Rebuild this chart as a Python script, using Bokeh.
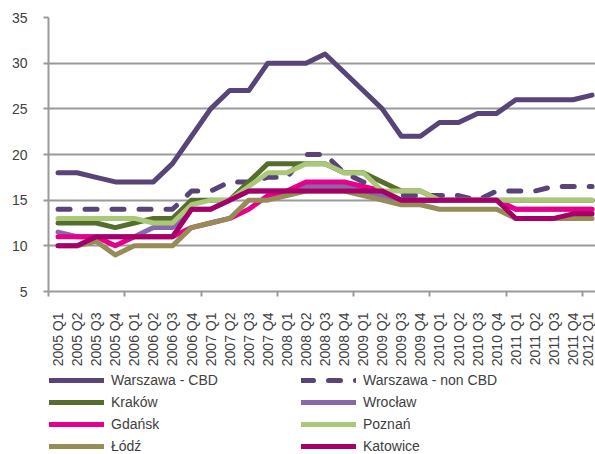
import math
from bokeh.plotting import figure
from bokeh.layouts import column
from bokeh.models import Range1d, FixedTicker, Legend, LegendItem
from bokeh.embed import file_html
from bokeh.resources import INLINE

quarters = ["2005 Q1", "2005 Q2", "2005 Q3", "2005 Q4",
            "2006 Q1", "2006 Q2", "2006 Q3", "2006 Q4",
            "2007 Q1", "2007 Q2", "2007 Q3", "2007 Q4",
            "2008 Q1", "2008 Q2", "2008 Q3", "2008 Q4",
            "2009 Q1", "2009 Q2", "2009 Q3", "2009 Q4",
            "2010 Q1", "2010 Q2", "2010 Q3", "2010 Q4",
            "2011 Q1", "2011 Q2", "2011 Q3", "2011 Q4",
            "2012 Q1"]

warszawa_cbd = [18, 18, 17.5, 17, 17, 17, 19, 22, 25, 27, 27, 30, 30, 30, 31, 29,
                27, 25, 22, 22, 23.5, 23.5, 24.5, 24.5, 26, 26, 26, 26, 26.5]
warszawa_non_cbd = [14, 14, 14, 14, 14, 14, 14, 16, 16, 17, 17, 17.5, 17.5, 20, 20, 18,
                    17, 16, 15.5, 15.5, 15.5, 15.5, 15, 16, 16, 16, 16.5, 16.5, 16.5]
krakow = [12.5, 12.5, 12.5, 12, 12.5, 13, 13, 15, 15, 15, 17, 19, 19, 19, 19, 18,
          18, 17, 16, 16, 15, 15, 15, 15, 15, 15, 15, 15, 15]
wroclaw = [11.5, 11, 11, 11, 11, 12, 12, 14, 14, 15, 16, 16, 16, 16.5, 16.5, 16.5,
           16, 15.5, 15, 15, 15, 15, 15, 15, 14, 14, 14, 14, 14]
gdansk = [11, 11, 11, 10, 11, 11, 11, 12, 12.5, 13, 14, 15.5, 16, 17, 17, 17,
          16.5, 16, 15, 15, 15, 15, 15, 15, 14, 14, 14, 14, 14]
poznan = [13, 13, 13, 13, 13, 12.5, 12.5, 14.5, 15, 15, 16.5, 18, 18, 19, 19, 18,
          18, 16, 16, 16, 15, 15, 15, 15, 15, 15, 15, 15, 15]
lodz = [10, 10, 10.5, 9, 10, 10, 10, 12, 12.5, 13, 15, 15, 15.5, 16, 16, 16,
        15.5, 15, 14.5, 14.5, 14, 14, 14, 14, 13, 13, 13, 13, 13]
katowice = [10, 10, 11, 11, 11, 11, 11, 14, 14, 15, 16, 16, 16, 16, 16, 16,
            16, 16, 15, 15, 15, 15, 15, 15, 13, 13, 13, 13.5, 13.5]

series_names = ["Warszawa - CBD", "Warszawa - non CBD", "Kraków", "Wrocław",
                "Gdańsk", "Poznań", "Łódź", "Katowice"]
series_values = [warszawa_cbd, warszawa_non_cbd, krakow, wroclaw,
                 gdansk, poznan, lodz, katowice]
series_colors = ["#584478", "#584478", "#556E2D", "#8769AA",
                 "#E6008C", "#AAC878", "#968C55", "#A50069"]
series_dash = ["solid", "12 15", "solid", "solid", "solid", "solid", "solid", "solid"]

y_ticks = [5, 10, 15, 20, 25, 30, 35]

x = list(range(len(quarters)))
FONT = "Liberation Sans"
GRID = "#9a9a9a"
TXT = "#404040"

p = figure(width=595, height=372, output_backend="svg", toolbar_location=None,
           x_range=Range1d(-0.5, 28.18), y_range=Range1d(5, 35),
           min_border_left=48, min_border_right=0, min_border_top=17,
           min_border_bottom=81)
p.outline_line_color = None
p.background_fill_color = "white"
p.border_fill_color = "white"

p.xgrid.visible = False
p.ygrid.grid_line_color = GRID
p.ygrid.grid_line_width = 2

p.yaxis.ticker = FixedTicker(ticks=y_ticks)
p.yaxis.axis_line_color = GRID
p.yaxis.axis_line_width = 2
p.yaxis.major_tick_line_color = GRID
p.yaxis.major_tick_line_width = 2
p.yaxis.major_tick_out = 5
p.yaxis.major_tick_in = 0
p.yaxis.minor_tick_line_color = None
p.yaxis.major_label_standoff = 16
p.yaxis.major_label_text_font = FONT
p.yaxis.major_label_text_font_size = "14px"
p.yaxis.major_label_text_color = TXT

p.xaxis.ticker = FixedTicker(ticks=x, minor_ticks=[i - 0.5 for i in range(0, len(quarters) + 1, 4)])
p.xaxis.major_label_overrides = {i: q for i, q in enumerate(quarters)}
p.xaxis.major_label_orientation = math.pi / 2
p.xaxis.axis_line_color = GRID
p.xaxis.axis_line_width = 2
p.xaxis.major_tick_line_color = None
p.xaxis.major_tick_out = 0
p.xaxis.major_tick_in = 0
p.xaxis.minor_tick_line_color = GRID
p.xaxis.minor_tick_line_width = 2
p.xaxis.minor_tick_out = 5
p.xaxis.minor_tick_in = 0
p.xaxis.major_label_standoff = 16
p.xaxis.major_label_text_font = FONT
p.xaxis.major_label_text_font_size = "14px"
p.xaxis.major_label_text_color = TXT

for vals, col, dash in zip(series_values, series_colors, series_dash):
    p.line(x, vals, line_color=col, line_width=5, line_join="round",
           line_cap="round", line_dash=dash)

# legend strip below the chart
lg = figure(width=595, height=82, output_backend="svg", toolbar_location=None,
            x_axis_type=None, y_axis_type=None,
            x_range=Range1d(-0.5, 28.18), y_range=Range1d(5, 35),
            min_border_left=0, min_border_right=0, min_border_top=0,
            min_border_bottom=0)
lg.outline_line_color = None
lg.xgrid.visible = False
lg.ygrid.visible = False

items = []
for name, vals, col, dash in zip(series_names, series_values, series_colors, series_dash):
    r = lg.line(x, vals, line_color=col, line_width=5, line_join="round",
                line_cap="round", line_dash=dash, visible=False)
    items.append(LegendItem(label=name, renderers=[r]))

legend = Legend(items=items, location=(1, 0), orientation="horizontal", ncols=2,
                glyph_width=55, glyph_height=16, label_height=16, label_width=184,
                spacing=6, padding=0, margin=0, label_standoff=7,
                border_line_color=None, background_fill_alpha=0,
                label_text_font=FONT, label_text_font_size="14px",
                label_text_color=TXT)
lg.add_layout(legend, "center")

layout = column(p, lg, spacing=0)
open("out.html", "w").write(file_html(layout, INLINE))
